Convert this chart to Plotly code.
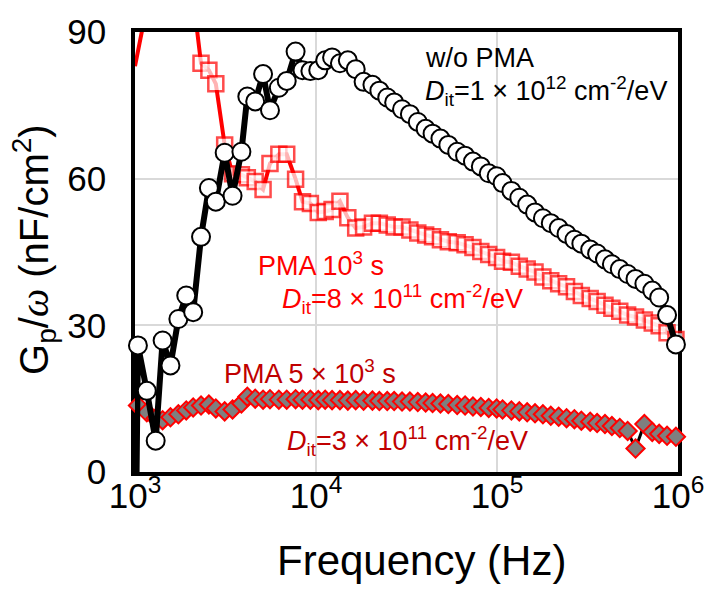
import plotly.graph_objects as go

# Measurement frequencies (Hz), shared by all three samples
freq = [1000, 1038, 1162, 1301, 1421, 1570, 1736, 1919, 2096, 2316,
        2560, 2796, 3129, 3459, 3871, 4174, 4614, 5100, 5569, 6234,
        6891, 7713, 8423, 9311, 10290, 11240, 12270, 13560, 14990, 16570,
        18320, 20500, 22390, 24750, 27030, 29870, 33020, 36500, 40350, 44060,
        48700, 53830, 60270, 66620, 73640, 81410, 89990, 99500, 107300, 120100,
        132800, 146800, 162200, 179300, 198200, 219100, 242200, 267700, 292400, 327300,
        357400, 395000, 431200, 476700, 526900, 582400, 652000, 720800, 787100, 870000,
        974100]

# Gp/omega (nF/cm2) without PMA
gp_no_pma = [-30, 25.9, 16.6, 6.4, 26.9, 21.8, 31.3, 36.1, 32.7, 48.1,
             58.1, 55.3, 65.3, 56.5, 65.5, 76.8, 75.8, 81.4, 74.0, 78.6,
             80.0, 86.0, 82.2, 82.0, 82.2, 84.2, 84.8, 83.6, 84.2, 82.4,
             79.8, 79.2, 78.0, 76.6, 75.6, 74.2, 73.2, 71.6, 70.2, 69.2,
             68.2, 66.9, 65.5, 64.7, 63.5, 62.5, 61.1, 60.5, 59.1, 57.5,
             56.1, 54.7, 53.1, 51.9, 50.9, 49.9, 48.7, 47.5, 46.7, 45.5,
             44.7, 43.5, 42.5, 41.5, 40.5, 39.5, 38.5, 37.1, 35.7, 32.1,
             26.1]

# Gp/omega (nF/cm2) after PMA 10^3 s
gp_pma_1e3 = [83.0, None, 95.2, 101, 105, 107, 106, 103, 97, 83.6,
              82.2, 79.4, 66.9, 61.0, 60.8, 60.2, 59.4, 57.8, 63.1, 65.0,
              65.0, 59.9, 55.3, 54.9, 53.1, 53.3, 53.7, 55.4, 52.0, 49.9,
              50.1, 50.9, 50.9, 50.5, 50.1, 50.1, 49.5, 48.9, 48.5, 48.1,
              47.5, 47.1, 46.9, 46.5, 45.9, 45.1, 44.5, 43.9, 43.1, 42.9,
              42.1, 41.5, 40.9, 39.9, 39.1, 38.5, 37.9, 36.9, 36.1, 35.5,
              34.9, 34.1, 33.5, 32.9, 32.1, 31.7, 31.1, 30.5, 29.9, 28.5,
              27.1]

# Gp/omega (nF/cm2) after PMA 5x10^3 s
gp_pma_5e3 = [14.4, 13.6, 12.2, 11.0, 10.6, 11.2, 11.8, 12.6, 13.2, 13.6,
              13.8, 13.0, 12.4, 12.8, 14.0, 15.4, 15.0, 14.8, 14.9, 14.8,
              14.8, 14.9, 14.8, 14.8, 14.7, 14.8, 14.7, 14.7, 14.6, 14.7,
              14.6, 14.6, 14.5, 14.5, 14.5, 14.4, 14.4, 14.3, 14.2, 14.1,
              14.0, 13.9, 13.7, 13.6, 13.4, 13.3, 13.1, 13.0, 12.8, 12.6,
              12.4, 12.2, 12.0, 11.8, 11.5, 11.3, 11.0, 10.8, 10.5, 10.3,
              10.0, 9.8, 9.4, 9.0, 8.4, 4.8, 9.8, 8.2, 7.8, 7.4,
              7.2]

x_ticks = [1e3, 1e4, 1e5, 1e6]
x_ticktext = ["10<sup>3</sup>", "10<sup>4</sup>", "10<sup>5</sup>", "10<sup>6</sup>"]
y_ticks = [0, 30, 60, 90]
Y_MIN, Y_MAX = 0, 90

FONT = "Liberation Sans, Arial, sans-serif"
RED = "#FF0000"
DARK_RED = "#C00000"


def shown(v):
    return v is not None and Y_MIN <= v <= Y_MAX


fig = go.Figure()

fig.add_trace(go.Scatter(
    x=freq, y=gp_pma_5e3, mode="lines+markers", cliponaxis=False,
    line=dict(color="black", width=3),
    marker=dict(symbol="diamond", size=14, color="#7F7F7F",
                line=dict(color=RED, width=2)),
    showlegend=False,
))

fig.add_trace(go.Scatter(
    x=freq, y=gp_pma_1e3, mode="lines+markers", cliponaxis=False,
    connectgaps=True,
    line=dict(color=RED, width=4),
    marker=dict(symbol="square", size=[15 if shown(v) else 0 for v in gp_pma_1e3],
                color="white", line=dict(color=RED, width=2.5)),
    showlegend=False,
))

fig.add_trace(go.Scatter(
    x=freq, y=gp_no_pma, mode="lines+markers", cliponaxis=False,
    line=dict(color="black", width=6),
    marker=dict(symbol="circle", size=18, color="white",
                line=dict(color="black", width=2)),
    showlegend=False,
))

axis_style = dict(
    showline=True, linecolor="black", linewidth=3.5, mirror=True,
    showgrid=True, gridcolor="#D9D9D9", gridwidth=1.5,
    zeroline=False, ticks="", layer="below traces",
    tickfont=dict(family=FONT, size=35, color="black"),
)

fig.update_xaxes(type="log", range=[3, 6], tickvals=x_ticks, ticktext=x_ticktext,
                 ticklabelstandoff=-10, **axis_style)
fig.update_yaxes(range=[Y_MIN, Y_MAX], tickvals=y_ticks, ticklabelstandoff=18,
                 **axis_style)

notes = [
    ("w/o PMA", 0.530, 0.940, "black"),
    ("<i>D</i><sub>it</sub>=1 × 10<sup>12</sup> cm<sup>-2</sup>/eV", 0.530, 0.866, "black"),
    ("PMA 10<sup>3</sup> s", 0.223, 0.472, RED),
    ("<i>D</i><sub>it</sub>=8 × 10<sup>11</sup> cm<sup>-2</sup>/eV", 0.267, 0.394, RED),
    ("PMA 5 × 10<sup>3</sup> s", 0.160, 0.227, DARK_RED),
    ("<i>D</i><sub>it</sub>=3 × 10<sup>11</sup> cm<sup>-2</sup>/eV", 0.276, 0.071, DARK_RED),
]
for text, x, y, color in notes:
    fig.add_annotation(text=text, x=x, y=y, xref="paper", yref="paper",
                       xanchor="left", yanchor="middle", showarrow=False,
                       font=dict(family=FONT, size=27, color=color))

# axis titles
fig.add_annotation(text="Frequency (Hz)", x=0.528, y=-0.200, xref="paper", yref="paper",
                   xanchor="center", yanchor="middle", showarrow=False,
                   font=dict(family=FONT, size=42, color="black"))
fig.add_annotation(
    text="G<sub>p</sub>/<span style=\"font-family:'Liberation Serif', serif\"><i>ω</i></span> (nF/cm<sup>2</sup>)",
    x=-0.185, y=0.506, xref="paper", yref="paper", textangle=-90,
    xanchor="center", yanchor="middle", showarrow=False,
    font=dict(family=FONT, size=40, color="black"))

fig.update_layout(
    width=716, height=593,
    margin=dict(l=135, r=30, t=23, b=121),
    paper_bgcolor="white", plot_bgcolor="white",
    font=dict(family=FONT, color="black"),
)

fig.write_html("out.html")
